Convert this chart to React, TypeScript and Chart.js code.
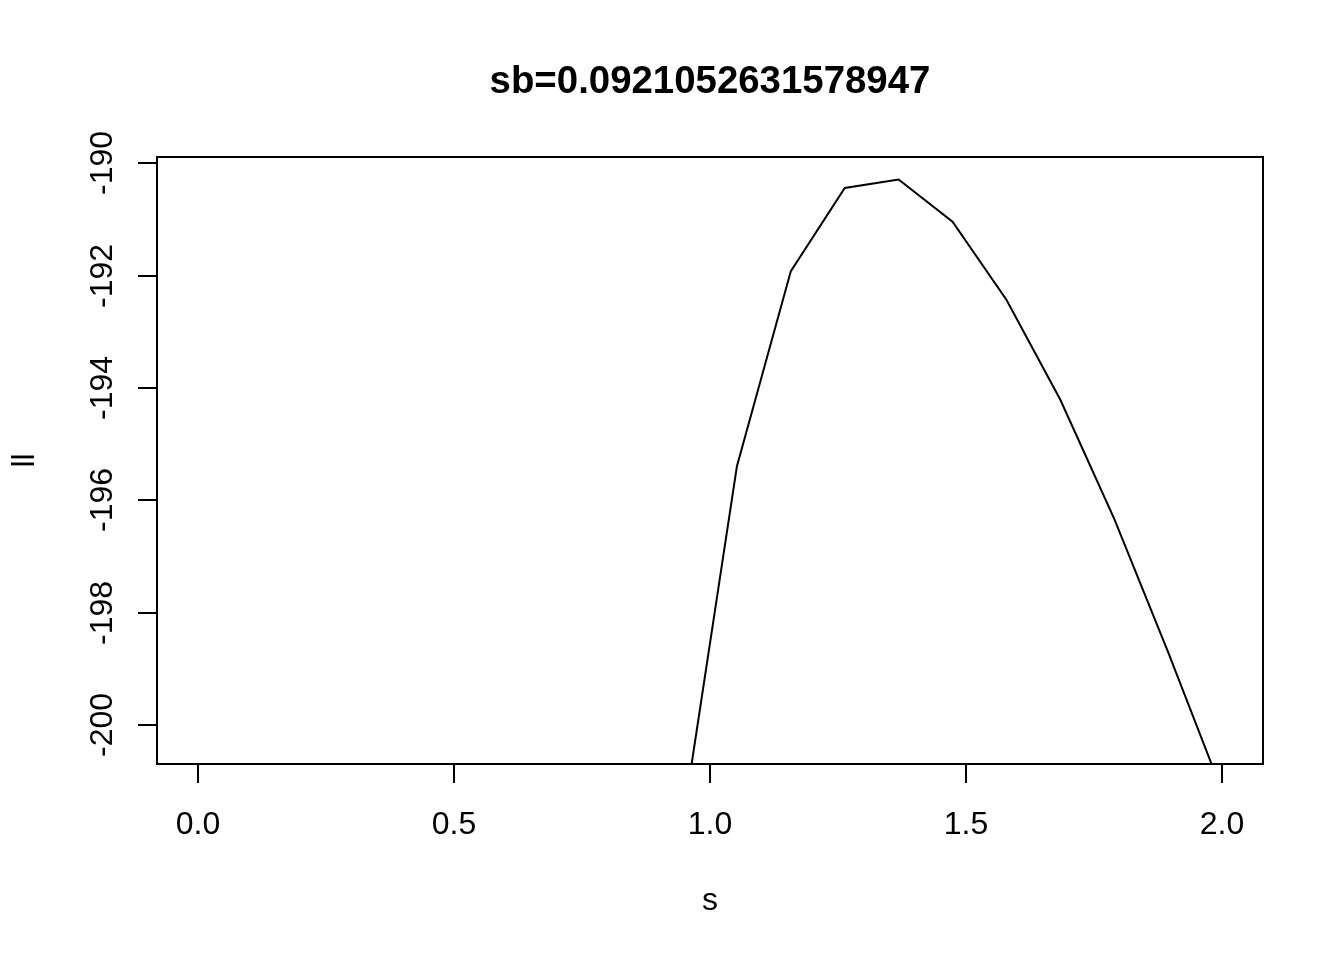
import React, { useEffect, useRef } from "react";
import { Chart, registerables } from "chart.js";

Chart.register(...registerables);

const sValues = [
  0, 0.1053, 0.2105, 0.3158, 0.4211, 0.5263, 0.6316, 0.7368, 0.8421, 0.9474,
  1.0526, 1.1579, 1.2632, 1.3684, 1.4737, 1.5789, 1.6842, 1.7895, 1.8947, 2.0,
];
const llValues = [
  -700, -440, -358, -312, -280, -256, -237, -222, -210, -201.69,
  -195.39, -191.92, -190.44, -190.29, -191.04, -192.43, -194.21, -196.33, -198.7, -201.17,
];
const xTicks = [0, 0.5, 1, 1.5, 2];
const xTickLabels = ["0.0", "0.5", "1.0", "1.5", "2.0"];
const yTicks = [-200, -198, -196, -194, -192, -190];
const yTickLabels = ["-200", "-198", "-196", "-194", "-192", "-190"];
const titleText = "sb=0.0921052631578947";
const xTitle = "s";
const yTitle = "ll";
const X_MIN = -0.08;
const X_MAX = 2.08;
const Y_MIN = -200.69;
const Y_MAX = -189.89;

const FONT = "'Liberation Sans', Arial, Helvetica, sans-serif";

const basePlot = {
  id: "basePlot",
  afterDraw(chart: any) {
    const ctx = chart.ctx;
    const area = chart.chartArea;
    const xs = chart.scales.x;
    const ys = chart.scales.y;
    ctx.save();
    ctx.strokeStyle = "#000";
    ctx.fillStyle = "#000";
    ctx.lineWidth = 2;
    ctx.strokeRect(area.left, area.top, area.right - area.left, area.bottom - area.top);
    ctx.font = `32px ${FONT}`;
    ctx.textAlign = "center";
    ctx.textBaseline = "alphabetic";
    xTicks.forEach((v, i) => {
      const px = Math.round(xs.getPixelForValue(v));
      ctx.beginPath();
      ctx.moveTo(px, area.bottom);
      ctx.lineTo(px, area.bottom + 19);
      ctx.stroke();
      ctx.fillText(xTickLabels[i], px, 834);
    });
    yTicks.forEach((v, i) => {
      const py = Math.round(ys.getPixelForValue(v));
      ctx.beginPath();
      ctx.moveTo(area.left, py);
      ctx.lineTo(area.left - 19, py);
      ctx.stroke();
      ctx.save();
      ctx.translate(112, py);
      ctx.rotate(-Math.PI / 2);
      ctx.textAlign = "center";
      ctx.fillText(yTickLabels[i], 0, 0);
      ctx.restore();
    });
    const cx = (area.left + area.right) / 2;
    const cy = (area.top + area.bottom) / 2;
    ctx.fillText(xTitle, cx, 910);
    ctx.save();
    ctx.translate(34, cy);
    ctx.rotate(-Math.PI / 2);
    ctx.textAlign = "center";
    ctx.fillText(yTitle, 0, 0);
    ctx.restore();
    ctx.font = `bold 38.4px ${FONT}`;
    ctx.textAlign = "center";
    ctx.fillText(titleText, cx, 93);
    ctx.restore();
  },
};

export default function App() {
  const ref = useRef<HTMLCanvasElement>(null);
  useEffect(() => {
    document.body.style.margin = "0";
    const chart = new Chart(ref.current!, {
      type: "line",
      data: {
        datasets: [
          {
            data: sValues.map((s, i) => ({ x: s, y: llValues[i] })),
            borderColor: "#000",
            borderWidth: 2,
            pointRadius: 0,
            fill: false,
            tension: 0,
          },
        ],
      },
      options: {
        animation: false,
        responsive: false,
        devicePixelRatio: 1,
        layout: { padding: { left: 157, top: 157, right: 81, bottom: 196 } },
        plugins: { legend: { display: false }, tooltip: { enabled: false }, title: { display: false } },
        scales: {
          x: { type: "linear", min: X_MIN, max: X_MAX, display: false },
          y: { type: "linear", min: Y_MIN, max: Y_MAX, display: false },
        },
      },
      plugins: [basePlot],
    });
    return () => chart.destroy();
  }, []);
  return (
    <div style={{ position: "fixed", left: 0, top: 0, width: 1344, height: 960, background: "#fff" }}>
      <canvas ref={ref} width={1344} height={960} style={{ display: "block" }} />
    </div>
  );
}
